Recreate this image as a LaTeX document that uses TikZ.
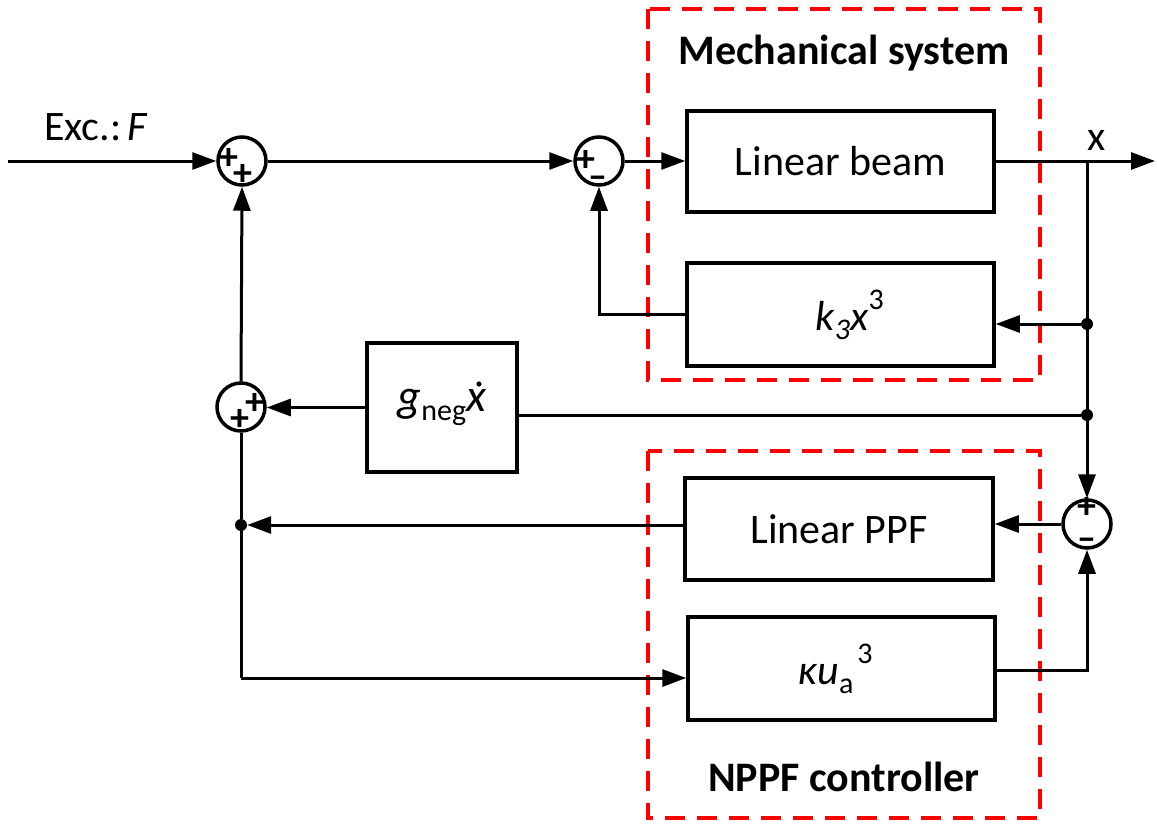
\documentclass[tikz,border=0pt]{standalone}
\usepackage{fontspec}
\setmainfont{Carlito}
\usetikzlibrary{arrows.meta,calc}
\newcommand{\supx}[1]{\raisebox{0.52em}{\fontsize{30}{30}\selectfont #1}}
\newcommand{\subx}[1]{\raisebox{-0.2em}{\fontsize{30}{30}\selectfont #1}}
\begin{document}
\begin{tikzpicture}[x=1pt,y=-1pt,
  blk/.style={draw,line width=3.5pt,minimum width=307pt,minimum height=102pt,inner sep=0pt,font=\fontsize{42}{50}\selectfont},
  sumc/.style={draw,circle,line width=3.5pt,minimum size=48pt,inner sep=0pt},
  conn/.style={line width=3pt},
  arr/.style={conn,-{Triangle[length=24pt,width=17pt]}},
  grp/.style={draw=red,line width=4pt,dash pattern=on 20pt off 12pt},
  dotn/.style={circle,fill,inner sep=0pt,minimum size=12pt},
  sgn/.style={font=\fontsize{38}{40}\selectfont\bfseries,inner ysep=0pt,inner xsep=-2.5pt,text height=21pt,text depth=-4pt},
  lbl/.style={font=\fontsize{42}{50}\selectfont,inner sep=0pt},
  ttl/.style={font=\fontsize{42}{50}\selectfont\bfseries,inner sep=0pt}]
\useasboundingbox (0,0) rectangle (1157,827);

% groups
\draw[grp] (648,9) rectangle (1040,380);
\draw[grp] (648,451) rectangle (1040,818);
\node[ttl,anchor=base] (t1) at (844,64) {Mechanical system};
\node[ttl,anchor=base] (t2) at (844,791) {NPPF controller};

% blocks
\node[blk,minimum height=101pt] (beam) at (840.5,161.5) {Linear beam};
\node[blk,minimum height=103pt] (k3) at (840.5,314.5) {\hspace*{18pt}\textit{k}\subx{\textit{3}}\textit{x}\supx{3}};
\node[blk,minimum width=150pt,minimum height=129pt] (g) at (442,407.5) {\fontsize{46}{50}\selectfont\textit{g}\subx{neg}\textit{x}};
\fill (479,384) circle (2.6pt);
\node[blk,minimum width=308pt] (ppf) at (839,529) {Linear PPF};
\node[blk,minimum height=103pt] (kap) at (841.5,668.5) {\hspace*{-12pt}\textit{κu}\subx{a}\supx{\kern4pt 3}};

% summing junctions
\node[sumc] (s1) at (242,161) {};
\node[sumc] (s2) at (599,161) {};
\node[sumc] (s3) at (241,407) {};
\node[sumc] (s4) at (1087,524) {};

\node[sgn] (s1a) at (229,159) {+};
\node[sgn] (s1b) at (243,175) {+};
\node[sgn] (s2a) at (586,161) {+};
\node[sgn] (s2b) at (598,178) {–};
\node[sgn] (s3a) at (255,404) {+};
\node[sgn] (s3b) at (240,420) {+};
\node[sgn] (s4a) at (1087,508) {+};
\node[sgn] (s4b) at (1087,540) {–};

% labels
\node[lbl,anchor=base west] (exc) at (44,140) {Exc.:\kern6pt\textit{F}};
\node[lbl,anchor=base] (xl) at (1097,150) {x};

% junction points
\coordinate (in) at (8,161);
\coordinate (out) at (1155,161);
\coordinate (j0) at (1087,161);
\node[dotn] (d1) at (1087,324) {};
\node[dotn] (d2) at (1087,415) {};
\node[dotn] (d3) at (241,525) {};
\coordinate (c1) at (241,678);
\coordinate (c2) at (1087,670);

% connectors
\draw[arr] (in) -- (s1.west);
\draw[arr] (s1.east) -- (s2.west);
\draw[arr] (s2.east) -- (s2.east -| beam.west);
\draw[arr] (beam.east |- out) -- (out);
\draw[arr] (j0) -- (s4.north);
\draw[arr] (d1) -- (d1 -| k3.east);
\draw[arr] (k3.west) -- (k3.west -| s2) -- (s2.south);
\draw[conn] (d2) -- (d2 -| g.east);
\draw[arr] (g.west) -- (g.west -| s3.east);
\draw[arr] (s3.north) -- (s1.south);
\draw[conn] (s3.south) -- (d3) -- (c1);
\draw[arr] (c1) -- (c1 -| kap.west);
\draw[arr] (ppf.west |- d3) -- (d3.east);
\draw[arr] (s4.west) -- (s4.west -| ppf.east);
\draw[arr] (kap.east |- c2) -- (c2) -- (s4.south);
\end{tikzpicture}
\end{document}
